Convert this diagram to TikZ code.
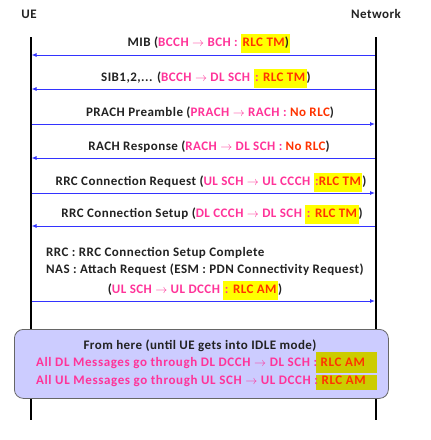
\documentclass[tikz,border=0pt]{standalone}
\usepackage{fontspec}
\setmainfont{Carlito}[LetterSpace=3.5]
\usetikzlibrary{arrows.meta}
\definecolor{pinkc}{HTML}{FF3399}
\definecolor{redc}{HTML}{FF3300}
\definecolor{hly}{HTML}{FFFF00}
\definecolor{hlo}{HTML}{CCCC00}
\definecolor{boxfill}{HTML}{CCCCFF}
\definecolor{boxline}{HTML}{666666}
\definecolor{arrblue}{HTML}{3333FF}
\definecolor{textc}{HTML}{222222}
\newcommand{\pk}[1]{\textcolor{pinkc}{#1}}
\newcommand{\rd}[1]{\textcolor{redc}{#1}}
\newcommand{\hy}[1]{{\setlength{\fboxsep}{1.5pt}\colorbox{hly}{\strut #1}}}
\newcommand{\ar}{$\rightarrow$}
\begin{document}
\begin{tikzpicture}[x=1pt,y=-1pt,
  every node/.style={font=\bfseries\fontsize{13}{16}\selectfont, text=textc, inner sep=0pt},
  boxtext/.style={font=\bfseries\fontsize{13}{16}\selectfont\addfontfeature{LetterSpace=4.7}},
  lifeline/.style={line width=2pt, black},
  msg/.style={draw=arrblue, line width=0.9pt, -{Latex[length=5pt,width=4pt]}},
  lbl/.style={anchor=center},
  infobox/.style={draw=boxline, fill=boxfill, line width=0.8pt, rounded corners=9pt}]
\useasboundingbox (0,0) rectangle (431,440);
% headers
\node (ue) at (29,14) {UE};
\node (nw) at (376,14) {Network};
% lifelines
\coordinate (ueTop) at (30.5,37);
\coordinate (ueBot) at (30.5,420);
\coordinate (nwTop) at (376,37);
\coordinate (nwBot) at (376,420);
\draw[lifeline] (ueTop) -- (ueBot);
\draw[lifeline] (nwTop) -- (nwBot);
% message endpoints
\foreach \i/\y in {1/55,2/89,3/124,4/158,5/193,6/226,7/301}{
  \coordinate (u\i) at (31.5,\y);
  \coordinate (n\i) at (375,\y);
}
\draw[msg] (n1) -- (u1);
\draw[msg] (n2) -- (u2);
\draw[msg] (u3) -- (n3);
\draw[msg] (n4) -- (u4);
\draw[msg] (u5) -- (n5);
\draw[msg] (n6) -- (u6);
\draw[msg] (u7) -- (n7);
% labels
\node[lbl] (l1) at (209,43) {MIB (\pk{BCCH \ar\ BCH :} \hy{\rd{RLC TM})}};
\node[lbl] (l2) at (206,78) {SIB1,2,... (\pk{BCCH \ar\ DL SCH} \hy{\pk{:} \rd{RLC TM}})};
\node[lbl] (l3) at (210,113) {PRACH Preamble (\pk{PRACH \ar\ RACH :} \rd{No RLC})};
\node[lbl] (l4) at (209,147) {RACH Response (\pk{RACH \ar\ DL SCH :} \rd{No RLC})};
\node[lbl] (l5) at (211,182) {RRC Connection Request (\pk{UL SCH \ar\ UL CCCH} \hy{\pk{:}\rd{RLC TM}})};
\node[lbl] (l6) at (212,214) {RRC Connection Setup (\pk{DL CCCH \ar\ DL SCH} \hy{\pk{:} \rd{RLC TM}})};
\node[anchor=west] (l7a) at (46,253) {RRC : RRC Connection Setup Complete};
\node[anchor=west] (l7b) at (46,270) {NAS : Attach Request (ESM : PDN Connectivity Request)};
\node[lbl] (l7c) at (195,290) {(\pk{UL SCH \ar\ UL DCCH} \hy{\pk{:} \rd{RLC AM}})};
% info box
\node[infobox, minimum width=374pt, minimum height=69pt, anchor=north west] (box) at (14,329) {};
\fill[hlo] (316,352) rectangle (377,373);
\fill[hlo] (316,375) rectangle (377,390);
\node[lbl] (b1) at (200,346) {From here (until UE gets into IDLE mode)};
\node[anchor=west, boxtext] (b2) at (36,363) {\pk{All DL Messages go through DL DCCH \ar\ DL SCH :} \rd{RLC AM}};
\node[anchor=west, boxtext] (b3) at (36,381) {\pk{All UL Messages go through UL SCH \ar\ UL DCCH :} \rd{RLC AM}};
\end{tikzpicture}
\end{document}
